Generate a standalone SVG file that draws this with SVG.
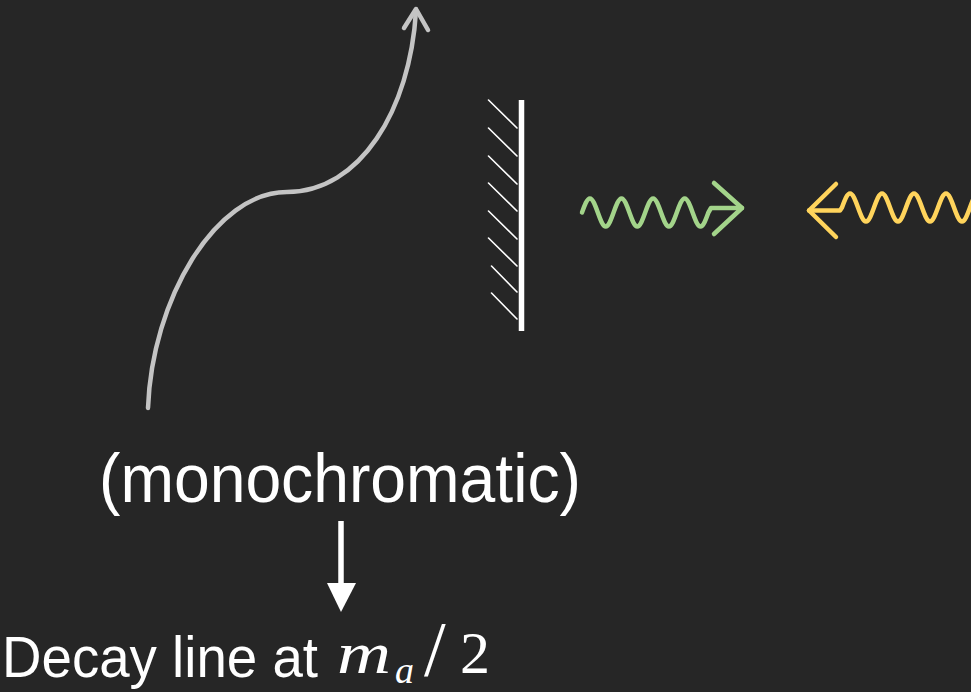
<svg xmlns="http://www.w3.org/2000/svg" width="971" height="692" viewBox="0 0 971 692">
<style>
.sans{font-family:"Liberation Sans",Arial,sans-serif;fill:#ffffff}
.serif{font-family:"Liberation Serif","Times New Roman",serif;fill:#ffffff}
.hatch{stroke:#ffffff;stroke-width:1.6;stroke-linecap:round}
.wave{fill:none;stroke-width:4.5;stroke-linecap:round;stroke-linejoin:round}
</style>
<rect width="971" height="692" fill="#262626"/>
<g id="connectors">
<g id="path-curve" fill="none" stroke="#c4c4c4" stroke-width="4.5" stroke-linecap="round" stroke-linejoin="round">
<path d="M148,408 C152,300 215,192 287,192 C360,192 410,110 416,11"/>
<path d="M404,28 L416,9 L428,30"/>
</g>
<g id="down-arrow">
<line x1="341" y1="521" x2="341" y2="586" stroke="#ffffff" stroke-width="5.5"/>
<polygon points="327,583 356,583 341,612" fill="#ffffff"/>
</g>
</g>
<g id="mirror">
<line x1="521.5" y1="100" x2="521.5" y2="331" stroke="#ffffff" stroke-width="5.5"/>
<line class="hatch" x1="488.5" y1="100" x2="517" y2="128"/>
<line class="hatch" x1="488.5" y1="128" x2="517" y2="156"/>
<line class="hatch" x1="488.5" y1="156" x2="517" y2="184"/>
<line class="hatch" x1="488.5" y1="183" x2="517" y2="211"/>
<line class="hatch" x1="488.5" y1="211" x2="517" y2="239"/>
<line class="hatch" x1="488.5" y1="238" x2="517" y2="266"/>
<line class="hatch" x1="491.5" y1="266" x2="517" y2="292"/>
<line class="hatch" x1="491.5" y1="293" x2="517" y2="319"/>
</g>
<g id="green-photon" class="wave" stroke="#a3d48a">
<path d="M582,212.5
c2.58,-7.17 5.04,-14 7.9,-14 c2.86,0 5.32,6.83 7.9,14 c2.58,7.17 5.04,14 7.9,14 c2.86,0 5.32,-6.83 7.9,-14
c2.58,-7.17 5.04,-14 7.9,-14 c2.86,0 5.32,6.83 7.9,14 c2.58,7.17 5.04,14 7.9,14 c2.86,0 5.32,-6.83 7.9,-14
c2.58,-7.17 5.04,-14 7.9,-14 c2.86,0 5.32,6.83 7.9,14 c2.58,7.17 5.04,14 7.9,14 c2.86,0 5.32,-6.83 7.9,-14
c2.58,-7.17 5.04,-14 7.9,-14 c2.86,0 5.32,6.83 7.9,14 c2.58,7.17 5.04,14 7.9,14 c2.86,0 5.32,-6.83 7.9,-14
L711,208 L742,208"/>
<path d="M714,183 L742,208 L714,234"/>
</g>
<g id="yellow-photon" class="wave" stroke="#ffd45c">
<path d="M836,184 L809,210.5 L836,237"/>
<path d="M809,210.5 L840,210.5 L842,207.5
c2.61,-7.17 5.1,-14 8,-14 c2.9,0 5.39,6.83 8,14 c2.61,7.17 5.1,14 8,14 c2.9,0 5.39,-6.83 8,-14
c2.61,-7.17 5.1,-14 8,-14 c2.9,0 5.39,6.83 8,14 c2.61,7.17 5.1,14 8,14 c2.9,0 5.39,-6.83 8,-14
c2.61,-7.17 5.1,-14 8,-14 c2.9,0 5.39,6.83 8,14 c2.61,7.17 5.1,14 8,14 c2.9,0 5.39,-6.83 8,-14
c2.61,-7.17 5.1,-14 8,-14 c2.9,0 5.39,6.83 8,14 c2.61,7.17 5.1,14 8,14 c2.9,0 5.39,-6.83 8,-14
c2.61,-7.17 5.1,-14 8,-14 c2.9,0 5.39,6.83 8,14"/>
</g>
<g id="label-monochromatic">
<text class="sans" x="99" y="502" font-size="68" textLength="482" lengthAdjust="spacingAndGlyphs">(monochromatic)</text>
</g>
<g id="label-decay">
<text class="sans" x="2" y="677" font-size="58" textLength="316" lengthAdjust="spacingAndGlyphs">Decay line at</text>
<text class="serif" x="337" y="673" font-size="60" font-style="italic" textLength="54" lengthAdjust="spacingAndGlyphs">m</text>
<text class="serif" x="395" y="683" font-size="38" font-style="italic">a</text>
<text class="serif" x="424" y="675" font-size="78">/</text>
<text class="serif" x="460" y="673" font-size="60">2</text>
</g>
</svg>
